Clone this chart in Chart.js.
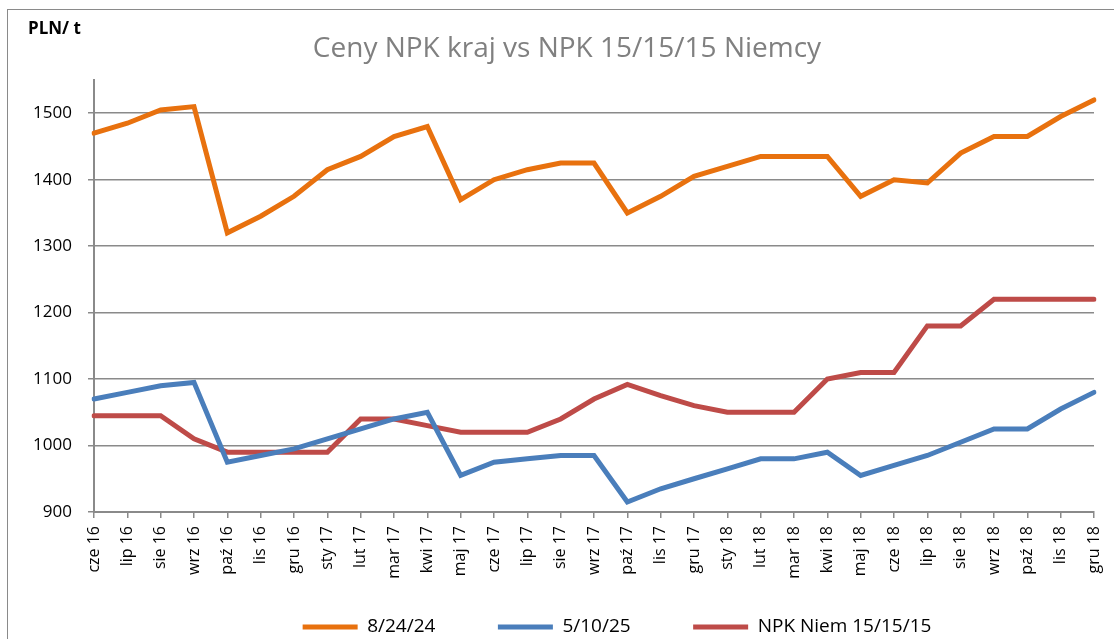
<!DOCTYPE html>
<html>
<head>
<meta charset="utf-8">
<script src="https://cdn.jsdelivr.net/npm/chart.js@4/dist/chart.umd.min.js"></script>
<style>
  html, body { margin: 0; padding: 0; background: #fff; }
  #wrap { position: relative; width: 1114px; height: 639px; overflow: hidden; }
  #frame { position: absolute; left: 7px; top: 9px; width: 1200px; height: 700px; border-left: 1.5px solid #8a8a8a; border-top: 1.5px solid #8a8a8a; }
  #unit { position: absolute; left: 28px; top: 16px; font-family: "Open Sans", sans-serif; font-weight: bold; font-size: 17px; color: #000; }
  canvas { position: absolute; left: 0; top: 0; }
</style>
</head>
<body>
<div id="wrap">
  <div id="frame"></div>
  <canvas id="c" width="1114" height="639"></canvas>
  <div id="unit">PLN/ t</div>
</div>
<script>
const categories = ["cze 16","lip 16","sie 16","wrz 16","paź 16","lis 16","gru 16",
  "sty 17","lut 17","mar 17","kwi 17","maj 17","cze 17","lip 17","sie 17","wrz 17","paź 17","lis 17","gru 17",
  "sty 18","lut 18","mar 18","kwi 18","maj 18","cze 18","lip 18","sie 18","wrz 18","paź 18","lis 18","gru 18"];

const npk82424 = [1470,1485,1505,1510,1320,1345,1375,1415,1435,1465,1480,1370,1400,1415,1425,1425,1350,1375,1405,1420,1435,1435,1435,1375,1400,1395,1440,1465,1465,1495,1520];
const npk51025 = [1070,1080,1090,1095,975,985,995,1010,1025,1040,1050,955,975,980,985,985,915,935,950,965,980,980,990,955,970,985,1005,1025,1025,1055,1080];
const npkNiem  = [1045,1045,1045,1010,990,990,990,990,1040,1040,1030,1020,1020,1020,1040,1070,1092,1075,1060,1050,1050,1050,1100,1110,1110,1180,1180,1220,1220,1220,1220];

const seriesNames = ["8/24/24", "5/10/25", "NPK Niem 15/15/15"];
const yTicks = [900,1000,1100,1200,1300,1400,1500];
const chartTitle = "Ceny NPK kraj vs NPK 15/15/15 Niemcy";

const FONT = "'Open Sans', sans-serif";
const GRID = "#8a8a8a";

const blockShift = {
  id: 'blockShift',
  afterLayout(chart) {
    const lg = chart.legend;
    if (lg) { lg.left += 60; lg.right += 60; lg.top -= 49; }
    const tb = chart.titleBlock;
    if (tb) { tb.left += 10; tb.right += 10; }
  }
};

new Chart(document.getElementById('c'), {
  type: 'line',
  data: {
    labels: categories,
    datasets: [
      { label: seriesNames[0], data: npk82424, borderColor: '#E8710E', backgroundColor: '#E8710E' },
      { label: seriesNames[1], data: npk51025, borderColor: '#4A7EBB', backgroundColor: '#4A7EBB' },
      { label: seriesNames[2], data: npkNiem,  borderColor: '#BE4B48', backgroundColor: '#BE4B48' }
    ]
  },
  options: {
    responsive: false,
    animation: false,
    devicePixelRatio: 1,
    elements: {
      line: { borderWidth: 5, tension: 0, borderCapStyle: 'round', borderJoinStyle: 'miter' },
      point: { radius: 0, hoverRadius: 0 }
    },
    layout: { padding: { left: 20, right: 20, top: 0, bottom: 0 } },
    plugins: {
      title: {
        display: true,
        text: chartTitle,
        color: '#808080',
        font: { family: FONT, size: 28, weight: 'normal', lineHeight: 1.2 },
        padding: { top: 32, bottom: 14.4 }
      },
      legend: {
        display: true,
        position: 'bottom',
        maxHeight: 35,
        labels: {
          boxWidth: 55,
          boxHeight: 5,
          padding: 62.5,
          color: '#000',
          font: { family: FONT, size: 19 },
          generateLabels(chart) {
            return chart.data.datasets.map((ds, i) => ({
              text: ds.label,
              fillStyle: ds.borderColor,
              strokeStyle: ds.borderColor,
              lineWidth: 0,
              datasetIndex: i,
              hidden: false
            }));
          }
        }
      },
      tooltip: { enabled: false }
    },
    scales: {
      x: {
        offset: false,
        grid: { display: true, drawOnChartArea: false, drawTicks: true, tickLength: 6, color: GRID, lineWidth: 1.5 },
        border: { display: true, color: GRID, width: 2 },
        ticks: {
          autoSkip: false, maxRotation: 90, minRotation: 90, padding: 8,
          color: '#000', font: { family: FONT, size: 16 }
        },
        afterFit(scale) { scale.height = 92; scale.paddingRight = 0; scale.paddingLeft = 0; }
      },
      y: {
        min: 900, max: 1550,
        grid: { color: GRID, lineWidth: 1.5, tickLength: 6, drawTicks: true },
        border: { display: true, color: GRID, width: 2 },
        ticks: { stepSize: 100, padding: 16, color: '#000', font: { family: FONT, size: 17 },
                 callback: (v) => String(v) },
        afterBuildTicks(scale) { scale.ticks = yTicks.map(v => ({ value: v })); },
        afterFit(scale) { scale.width = 74; }
      }
    }
  },
  plugins: [blockShift]
});
</script>
</body>
</html>
